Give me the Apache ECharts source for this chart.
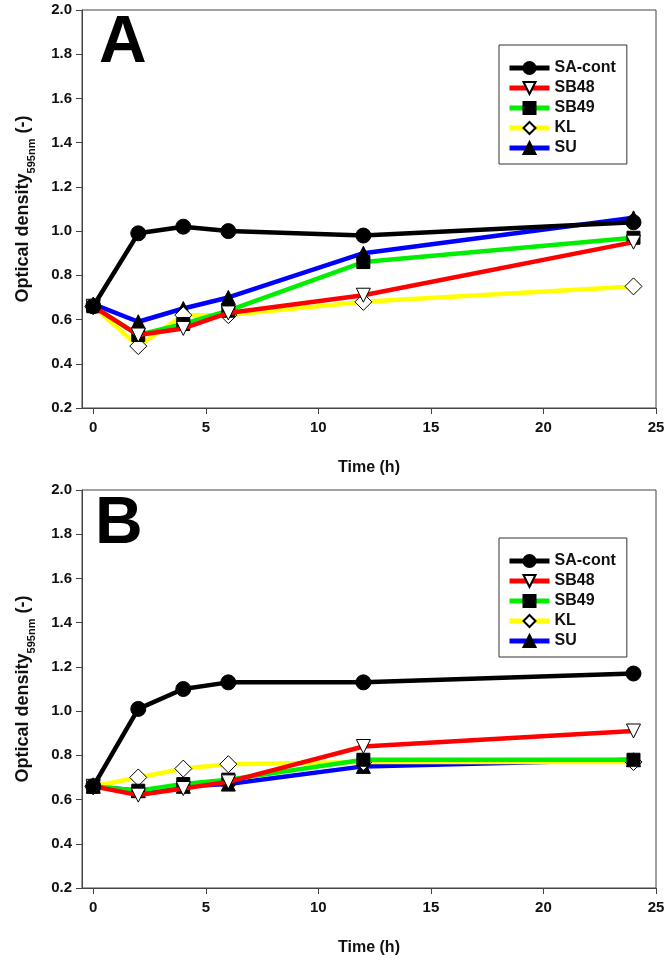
<!DOCTYPE html>
<html><head><meta charset="utf-8">
<script src="https://cdn.jsdelivr.net/npm/echarts@6/dist/echarts.min.js"></script>
<style>html,body{margin:0;padding:0;background:#fff}#c{width:669px;height:969px}</style>
</head><body><div id="c"></div>
<script>
const hours = [0, 2, 4, 6, 12, 24];
const seriesNames = ['SA-cont', 'SB48', 'SB49', 'KL', 'SU'];
const xTicks = [0, 5, 10, 15, 20, 25];
// Panel A
const A_SAcont = [0.66, 0.99, 1.02, 1.00, 0.98, 1.04];
const A_SB48   = [0.66, 0.53, 0.56, 0.63, 0.71, 0.95];
const A_SB49   = [0.66, 0.53, 0.58, 0.64, 0.86, 0.97];
const A_KL     = [0.66, 0.48, 0.62, 0.62, 0.68, 0.75];
const A_SU     = [0.67, 0.59, 0.65, 0.70, 0.90, 1.06];
// Panel B
const B_SAcont = [0.66, 1.01, 1.10, 1.13, 1.13, 1.17];
const B_SB48   = [0.66, 0.62, 0.65, 0.68, 0.84, 0.91];
const B_SB49   = [0.66, 0.64, 0.67, 0.69, 0.78, 0.78];
const B_KL     = [0.66, 0.70, 0.74, 0.76, 0.77, 0.77];
const B_SU     = [0.66, 0.64, 0.66, 0.67, 0.75, 0.78];

const styles = {
  'SA-cont': {color:'#000000', symbol:'circle', rot:0, fill:'#000000', size:15},
  'SB48': {color:'#ff0000', symbol:'triangle', rot:180, fill:'#ffffff', size:14},
  'SB49': {color:'#00ee00', symbol:'rect', rot:0, fill:'#000000', size:13},
  'KL': {color:'#ffff00', symbol:'diamond', rot:0, fill:'#ffffff', size:17},
  'SU': {color:'#0000ff', symbol:'triangle', rot:0, fill:'#000000', size:14}
};
const FONT = 'Liberation Sans, Arial, sans-serif';
const panels = [
  {top:10, data:[A_SAcont, A_SB48, A_SB49, A_KL, A_SU], letter:'A', lx:94, ly:6, legTop:45},
  {top:490, data:[B_SAcont, B_SB48, B_SB49, B_KL, B_SU], letter:'B', lx:90, ly:487, legTop:538}
];
const grids=[], xAxes=[], yAxes=[], series=[], legends=[], titles=[];
panels.forEach((p, i) => {
  grids.push({left:82, right:13, top:p.top, height:398, show:true, borderColor:'#444', borderWidth:1, backgroundColor:'transparent'});
  xAxes.push({type:'value', gridIndex:i, min:-0.5, max:25, name:'Time (h)', nameLocation:'middle', nameGap:52,
    nameTextStyle:{fontFamily:FONT, fontWeight:'bold', fontSize:16, color:'#111'},
    axisLine:{show:true, onZero:false, lineStyle:{color:'#444', width:1}},
    axisTick:{show:true, customValues:xTicks, length:6, lineStyle:{color:'#444'}},
    axisLabel:{customValues:xTicks, fontFamily:FONT, fontWeight:'bold', fontSize:15, color:'#111', margin:12},
    splitLine:{show:false}});
  yAxes.push({type:'value', gridIndex:i, min:0.2, max:2.0, interval:0.2,
    name:'{a|Optical density}{b|595nm}{a| (-)}', nameLocation:'middle', nameGap:50, nameRotate:90,
    nameTextStyle:{rich:{a:{fontFamily:FONT, fontWeight:'bold', fontSize:18, color:'#111', lineHeight:22, verticalAlign:'bottom'},
                         b:{fontFamily:FONT, fontWeight:'bold', fontSize:11, color:'#111', lineHeight:22, verticalAlign:'bottom', padding:[0,0,-5,0]}}},
    axisLine:{show:true, onZero:false, lineStyle:{color:'#444', width:1}},
    axisTick:{show:true, length:6, lineStyle:{color:'#444'}},
    axisLabel:{formatter:v=>v.toFixed(1), fontFamily:FONT, fontWeight:'bold', fontSize:15, color:'#111', margin:10},
    splitLine:{show:false}});
  seriesNames.forEach((n, k) => {
    const s = styles[n];
    series.push({name:n, type:'line', xAxisIndex:i, yAxisIndex:i, data:hours.map((h,j)=>[h, p.data[k][j]]),
      symbol:s.symbol, symbolRotate:s.rot, symbolSize:s.size, showAllSymbol:true,
      lineStyle:{color:s.color, width:4.5}, itemStyle:{color:s.fill, borderColor:'#000', borderWidth:1},
      z:10-k, animation:false});
  });
  legends.push({top:p.legTop, left:499, orient:'vertical', data:seriesNames, itemWidth:40, itemHeight:15, itemGap:4,
    borderColor:'#333', borderWidth:1, padding:[15,11,8,8], width:110,
    lineStyle:{width:5},
    textStyle:{fontFamily:FONT, fontWeight:'bold', fontSize:16, color:'#111'}});
  titles.push({text:p.letter, left:p.lx, top:p.ly, textStyle:{fontFamily:FONT, fontWeight:'bold', fontSize:66, color:'#000'}});
});
const chart = echarts.init(document.getElementById('c'), null, {renderer:'canvas'});
chart.setOption({animation:false, backgroundColor:'#fff', title:titles, grid:grids, xAxis:xAxes, yAxis:yAxes, legend:legends, series:series});
</script></body></html>
